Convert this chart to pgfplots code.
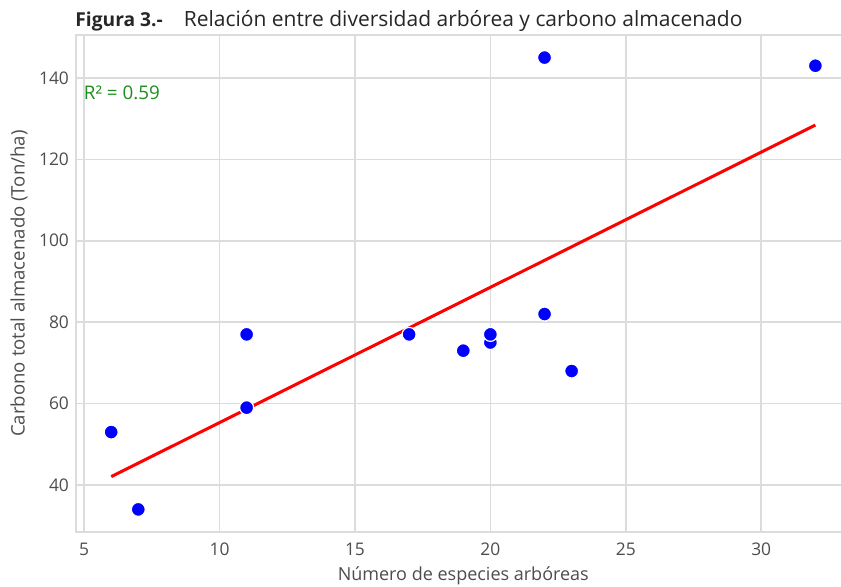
\documentclass[border=0pt]{standalone}
\usepackage{fontspec}
\setmainfont{Open Sans}
\usepackage{pgfplots}
\pgfplotsset{compat=1.18}
\definecolor{gridc}{HTML}{DCDCDC}
\definecolor{tickc}{HTML}{4D4D4D}
\definecolor{rgreen}{HTML}{1E8C1E}
\begin{document}
\begin{tikzpicture}
\path[use as bounding box] (-38pt,-27pt) rectangle (382.5pt,266pt);
\begin{axis}[at={(0,0)}, anchor=south west, scale only axis,
  width=387.3pt, height=248.5pt,
  xmin=4.7, xmax=33.3, ymin=28.45, ymax=150.55,
  xtick={5,10,...,30}, ytick={40,60,...,140},
  grid=major, major grid style={gridc, line width=0.8pt},
  axis line style={gridc, line width=0.8pt},
  major tick length=0pt,
  tick label style={font=\fontsize{8.7}{10}\selectfont, text=tickc},
  xticklabel style={yshift=-2pt},
  /pgf/number format/assume math mode=true,
  xlabel={Número de especies arbóreas},
  ylabel={Carbono total almacenado (Ton/ha)},
  label style={text=tickc},
  xlabel style={font=\fontsize{9}{10}\selectfont, at={(axis description cs:0.5,-0.0885)}, anchor=center},
  ylabel style={font=\fontsize{9.3}{10}\selectfont, at={(axis description cs:-0.0735,0.5)}, anchor=center},
  clip=false,
]
\addplot[only marks, mark=*, mark size=3.5pt, mark options={fill=blue, draw=white, line width=0.6pt}] coordinates {
(6,53) (7,34) (11,77) (11,59) (17,77) (19,73) (20,75) (20,77) (22,82) (22,145) (23,68) (32,143)};
\addplot[red, line width=1.5pt] coordinates {(6,42.05) (32,128.42)};
\node[anchor=west, font=\fontsize{9.4}{10}\selectfont, text=rgreen, inner sep=0pt] at (axis cs:4.98,136.3) {R² = 0.59};
\end{axis}
\node[anchor=base west, inner sep=0pt, text=black!85] at (-0.5pt,253pt) {{\fontsize{9.6}{11}\selectfont\bfseries Figura 3.-}\hspace{10.5pt}{\fontsize{10.5}{12}\selectfont Relación entre diversidad arbórea y carbono almacenado}};
\end{tikzpicture}
\end{document}
